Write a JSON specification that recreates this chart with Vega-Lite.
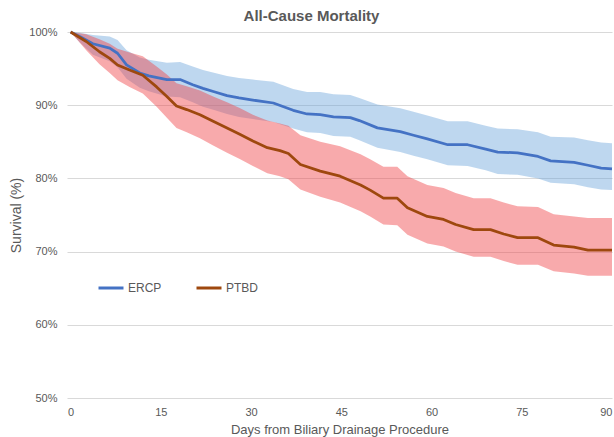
{
  "$schema": "https://vega.github.io/schema/vega-lite/v6.json",
  "autosize": {"type": "none"},
  "padding": {"left": 67, "top": 32, "right": 2, "bottom": 39},
  "width": 545,
  "height": 366,
  "background": "white",
  "title": {
    "text": "All-Cause Mortality",
    "font": "Liberation Sans",
    "fontSize": 15,
    "fontWeight": "bold",
    "color": "#595959",
    "anchor": "middle",
    "dx": -28,
    "offset": 2
  },
  "datasets": {
    "km": [
      {"day": 0, "group": "ERCP", "s": 100, "lo": 100, "hi": 100},
      {"day": 1.5, "group": "ERCP", "s": 99.4, "lo": 98.6, "hi": 99.9},
      {"day": 3.7, "group": "ERCP", "s": 98.4, "lo": 96.9, "hi": 99.6},
      {"day": 6.5, "group": "ERCP", "s": 97.8, "lo": 96.0, "hi": 99.4},
      {"day": 7.8, "group": "ERCP", "s": 97.1, "lo": 95.2, "hi": 98.9},
      {"day": 9.3, "group": "ERCP", "s": 95.5, "lo": 93.6, "hi": 97.5},
      {"day": 11.5, "group": "ERCP", "s": 94.4, "lo": 92.4, "hi": 96.5},
      {"day": 13, "group": "ERCP", "s": 94.0, "lo": 91.9, "hi": 96.2},
      {"day": 16, "group": "ERCP", "s": 93.5, "lo": 91.2, "hi": 95.8},
      {"day": 18.2, "group": "ERCP", "s": 93.5, "lo": 91.1, "hi": 95.9},
      {"day": 20.3, "group": "ERCP", "s": 92.8, "lo": 90.4, "hi": 95.3},
      {"day": 22, "group": "ERCP", "s": 92.3, "lo": 89.8, "hi": 94.8},
      {"day": 24, "group": "ERCP", "s": 91.8, "lo": 89.3, "hi": 94.4},
      {"day": 26, "group": "ERCP", "s": 91.3, "lo": 88.8, "hi": 94.0},
      {"day": 28, "group": "ERCP", "s": 91.0, "lo": 88.4, "hi": 93.7},
      {"day": 30.3, "group": "ERCP", "s": 90.7, "lo": 88.1, "hi": 93.5},
      {"day": 33.7, "group": "ERCP", "s": 90.3, "lo": 87.7, "hi": 93.2},
      {"day": 37, "group": "ERCP", "s": 89.3, "lo": 86.8, "hi": 92.2},
      {"day": 39.3, "group": "ERCP", "s": 88.8, "lo": 86.3, "hi": 91.8},
      {"day": 41.5, "group": "ERCP", "s": 88.7, "lo": 86.2, "hi": 91.8},
      {"day": 43.7, "group": "ERCP", "s": 88.4, "lo": 85.8, "hi": 91.5},
      {"day": 46.5, "group": "ERCP", "s": 88.3, "lo": 85.7, "hi": 91.4},
      {"day": 48, "group": "ERCP", "s": 87.9, "lo": 85.2, "hi": 91.0},
      {"day": 51, "group": "ERCP", "s": 86.9, "lo": 84.2, "hi": 90.1},
      {"day": 54.8, "group": "ERCP", "s": 86.4, "lo": 83.6, "hi": 89.6},
      {"day": 57, "group": "ERCP", "s": 85.9, "lo": 83.1, "hi": 89.1},
      {"day": 59.3, "group": "ERCP", "s": 85.4, "lo": 82.6, "hi": 88.6},
      {"day": 62.7, "group": "ERCP", "s": 84.6, "lo": 81.8, "hi": 87.8},
      {"day": 66, "group": "ERCP", "s": 84.6, "lo": 81.7, "hi": 87.8},
      {"day": 69, "group": "ERCP", "s": 84.0, "lo": 81.1, "hi": 87.2},
      {"day": 71, "group": "ERCP", "s": 83.6, "lo": 80.6, "hi": 86.8},
      {"day": 74.3, "group": "ERCP", "s": 83.5, "lo": 80.5, "hi": 86.7},
      {"day": 77.7, "group": "ERCP", "s": 83.0, "lo": 80.0, "hi": 86.3},
      {"day": 79.8, "group": "ERCP", "s": 82.4, "lo": 79.4, "hi": 85.7},
      {"day": 83.7, "group": "ERCP", "s": 82.2, "lo": 79.2, "hi": 85.6},
      {"day": 86, "group": "ERCP", "s": 81.8, "lo": 78.8, "hi": 85.2},
      {"day": 88.2, "group": "ERCP", "s": 81.4, "lo": 78.5, "hi": 84.9},
      {"day": 90, "group": "ERCP", "s": 81.3, "lo": 78.4, "hi": 84.8},
      {"day": 0, "group": "PTBD", "s": 100, "lo": 100, "hi": 100},
      {"day": 2.6, "group": "PTBD", "s": 98.7, "lo": 97.5, "hi": 99.7},
      {"day": 4.8, "group": "PTBD", "s": 97.3, "lo": 95.6, "hi": 99.0},
      {"day": 6.5, "group": "PTBD", "s": 96.4, "lo": 94.4, "hi": 98.4},
      {"day": 7.8, "group": "PTBD", "s": 95.5, "lo": 93.4, "hi": 97.7},
      {"day": 9.8, "group": "PTBD", "s": 94.8, "lo": 92.5, "hi": 97.2},
      {"day": 12, "group": "PTBD", "s": 94.1, "lo": 91.6, "hi": 96.7},
      {"day": 14.3, "group": "PTBD", "s": 92.5, "lo": 89.8, "hi": 95.3},
      {"day": 16, "group": "PTBD", "s": 91.2, "lo": 88.3, "hi": 94.2},
      {"day": 17.6, "group": "PTBD", "s": 89.9, "lo": 86.9, "hi": 93.0},
      {"day": 19.3, "group": "PTBD", "s": 89.4, "lo": 86.3, "hi": 92.6},
      {"day": 21.5, "group": "PTBD", "s": 88.7, "lo": 85.5, "hi": 92.0},
      {"day": 23.7, "group": "PTBD", "s": 87.8, "lo": 84.5, "hi": 91.2},
      {"day": 26, "group": "PTBD", "s": 86.9, "lo": 83.5, "hi": 90.4},
      {"day": 28.2, "group": "PTBD", "s": 86.0, "lo": 82.6, "hi": 89.6},
      {"day": 30.3, "group": "PTBD", "s": 85.1, "lo": 81.7, "hi": 88.7},
      {"day": 32.7, "group": "PTBD", "s": 84.2, "lo": 80.7, "hi": 87.9},
      {"day": 34.8, "group": "PTBD", "s": 83.8, "lo": 80.3, "hi": 87.5},
      {"day": 36.2, "group": "PTBD", "s": 83.4, "lo": 79.9, "hi": 87.2},
      {"day": 38.2, "group": "PTBD", "s": 81.9, "lo": 78.5, "hi": 85.9},
      {"day": 41.5, "group": "PTBD", "s": 81.0, "lo": 77.5, "hi": 85.0},
      {"day": 44.8, "group": "PTBD", "s": 80.3, "lo": 76.7, "hi": 84.4},
      {"day": 48.2, "group": "PTBD", "s": 79.1, "lo": 75.5, "hi": 83.3},
      {"day": 49.8, "group": "PTBD", "s": 78.4, "lo": 74.8, "hi": 82.6},
      {"day": 52, "group": "PTBD", "s": 77.3, "lo": 73.7, "hi": 81.6},
      {"day": 54.3, "group": "PTBD", "s": 77.3, "lo": 73.6, "hi": 81.6},
      {"day": 56, "group": "PTBD", "s": 76.0, "lo": 72.3, "hi": 80.3},
      {"day": 59.3, "group": "PTBD", "s": 74.8, "lo": 71.1, "hi": 79.1},
      {"day": 62, "group": "PTBD", "s": 74.4, "lo": 70.7, "hi": 78.7},
      {"day": 64, "group": "PTBD", "s": 73.7, "lo": 70.0, "hi": 78.0},
      {"day": 67, "group": "PTBD", "s": 73.0, "lo": 69.3, "hi": 77.3},
      {"day": 69.8, "group": "PTBD", "s": 73.0, "lo": 69.3, "hi": 77.3},
      {"day": 72, "group": "PTBD", "s": 72.4, "lo": 68.7, "hi": 76.7},
      {"day": 74.3, "group": "PTBD", "s": 71.9, "lo": 68.2, "hi": 76.2},
      {"day": 77.7, "group": "PTBD", "s": 71.9, "lo": 68.2, "hi": 76.1},
      {"day": 80.3, "group": "PTBD", "s": 70.9, "lo": 67.3, "hi": 75.1},
      {"day": 83.7, "group": "PTBD", "s": 70.6, "lo": 67.0, "hi": 74.8},
      {"day": 86, "group": "PTBD", "s": 70.2, "lo": 66.7, "hi": 74.6},
      {"day": 90, "group": "PTBD", "s": 70.2, "lo": 66.7, "hi": 74.6}
    ]
  },
  "data": {"name": "km"},
  "encoding": {
    "x": {
      "field": "day",
      "type": "quantitative",
      "scale": {"domain": [-0.6, 90], "nice": false, "zero": false},
      "axis": {
        "title": "Days from Biliary Drainage Procedure",
        "values": [0, 15, 30, 45, 60, 75, 90],
        "grid": false,
        "domain": false,
        "ticks": false,
        "labelPadding": 8,
        "titlePadding": 6,
        "labelFont": "Liberation Sans",
        "labelFontSize": 11,
        "labelColor": "#595959",
        "titleFont": "Liberation Sans",
        "titleFontSize": 13,
        "titleFontWeight": "normal",
        "titleColor": "#595959"
      }
    }
  },
  "layer": [
    {
      "transform": [{"filter": "datum.group === 'ERCP'"}],
      "mark": {"type": "area", "color": "#639FD9", "opacity": 0.42},
      "encoding": {
        "y": {"field": "lo", "type": "quantitative"},
        "y2": {"field": "hi"}
      }
    },
    {
      "transform": [{"filter": "datum.group === 'PTBD'"}],
      "mark": {"type": "area", "color": "#EF4247", "opacity": 0.45},
      "encoding": {
        "y": {"field": "lo", "type": "quantitative"},
        "y2": {"field": "hi"}
      }
    },
    {
      "mark": {"type": "line", "strokeWidth": 2.75, "strokeJoin": "round"},
      "encoding": {
        "y": {
          "field": "s",
          "type": "quantitative",
          "scale": {"domain": [50, 100], "nice": false, "zero": false},
          "axis": {
            "title": "Survival (%)",
            "values": [50, 60, 70, 80, 90, 100],
            "labelExpr": "datum.value + '%'",
            "grid": true,
            "gridColor": "#D9D9D9",
            "gridWidth": 1,
            "domain": false,
            "ticks": false,
            "labelPadding": 10,
            "titlePadding": 5,
            "labelFont": "Liberation Sans",
            "labelFontSize": 11,
            "labelColor": "#595959",
            "titleFont": "Liberation Sans",
            "titleFontSize": 14,
            "titleFontWeight": "normal",
            "titleColor": "#595959"
          }
        },
        "color": {
          "field": "group",
          "type": "nominal",
          "scale": {"domain": ["ERCP", "PTBD"], "range": ["#4472C4", "#9E480E"]},
          "legend": {
            "title": null,
            "orient": "none",
            "legendX": 30,
            "legendY": 242,
            "direction": "horizontal",
            "symbolType": "stroke",
            "symbolSize": 625,
            "symbolStrokeWidth": 3,
            "labelOffset": 3,
            "columnPadding": 28,
            "labelFont": "Liberation Sans",
            "labelFontSize": 12,
            "labelColor": "#595959"
          }
        }
      }
    }
  ],
  "config": {"view": {"stroke": null}}
}
